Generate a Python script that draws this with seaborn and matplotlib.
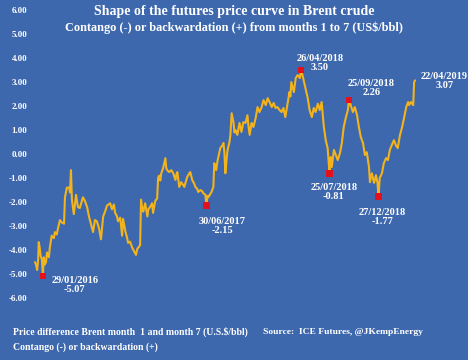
import pandas as pd
import matplotlib.pyplot as plt
import seaborn as sns

# Brent month1 - month7 spread (US$/bbl)
dates = [
    '2016-01-04', '2016-01-07', '2016-01-11', '2016-01-14', '2016-01-16', '2016-01-19', '2016-01-22', '2016-01-26',
    '2016-01-29', '2016-02-01', '2016-02-04', '2016-02-08', '2016-02-11', '2016-02-17', '2016-02-20', '2016-02-26',
    '2016-03-04', '2016-03-07', '2016-03-13', '2016-03-16', '2016-03-23', '2016-03-29', '2016-04-05', '2016-04-08',
    '2016-04-14', '2016-04-21', '2016-04-24', '2016-04-27', '2016-04-30', '2016-05-06', '2016-05-13', '2016-05-19',
    '2016-05-25', '2016-06-04', '2016-06-10', '2016-06-17', '2016-06-23', '2016-06-29', '2016-07-06', '2016-07-12',
    '2016-07-18', '2016-07-25', '2016-07-31', '2016-08-07', '2016-08-13', '2016-08-19', '2016-08-29', '2016-09-04',
    '2016-09-10', '2016-09-14', '2016-09-20', '2016-09-23', '2016-09-30', '2016-10-06', '2016-10-09', '2016-10-16',
    '2016-10-22', '2016-10-25', '2016-10-31', '2016-11-07', '2016-11-13', '2016-11-19', '2016-11-23', '2016-11-29',
    '2016-12-02', '2016-12-05', '2016-12-09', '2016-12-12', '2016-12-18', '2016-12-25', '2016-12-28', '2017-01-03',
    '2017-01-09', '2017-01-12', '2017-01-19', '2017-01-25', '2017-01-28', '2017-01-31', '2017-02-04', '2017-02-07',
    '2017-02-13', '2017-02-20', '2017-02-23', '2017-02-26', '2017-03-04', '2017-03-11', '2017-03-17', '2017-03-24',
    '2017-03-27', '2017-03-30', '2017-04-05', '2017-04-11', '2017-04-18', '2017-04-21', '2017-04-27', '2017-04-30',
    '2017-05-07', '2017-05-10', '2017-05-16', '2017-05-23', '2017-05-26', '2017-06-01', '2017-06-04', '2017-06-11',
    '2017-06-17', '2017-06-20', '2017-06-27', '2017-06-30', '2017-07-03', '2017-07-06', '2017-07-13', '2017-07-16',
    '2017-07-22', '2017-07-25', '2017-07-29', '2017-07-31', '2017-08-04', '2017-08-07', '2017-08-13', '2017-08-20',
    '2017-08-23', '2017-08-26', '2017-08-29', '2017-09-02', '2017-09-05', '2017-09-11', '2017-09-14', '2017-09-18',
    '2017-09-24', '2017-09-27', '2017-09-30', '2017-10-06', '2017-10-13', '2017-10-19', '2017-10-25', '2017-11-01',
    '2017-11-07', '2017-11-10', '2017-11-14', '2017-11-20', '2017-11-26', '2017-12-03', '2017-12-09', '2017-12-15',
    '2017-12-22', '2017-12-28', '2018-01-04', '2018-01-10', '2018-01-16', '2018-01-23', '2018-01-29', '2018-02-04',
    '2018-02-10', '2018-02-17', '2018-02-23', '2018-03-01', '2018-03-07', '2018-03-14', '2018-03-20', '2018-03-23',
    '2018-03-26', '2018-04-03', '2018-04-09', '2018-04-15', '2018-04-22', '2018-04-26', '2018-05-01', '2018-05-04',
    '2018-05-11', '2018-05-17', '2018-05-23', '2018-05-30', '2018-06-05', '2018-06-11', '2018-06-18', '2018-06-24',
    '2018-06-30', '2018-07-07', '2018-07-13', '2018-07-19', '2018-07-25', '2018-07-26', '2018-07-29', '2018-08-01',
    '2018-08-08', '2018-08-14', '2018-08-20', '2018-08-27', '2018-09-02', '2018-09-08', '2018-09-15', '2018-09-21',
    '2018-09-25', '2018-09-30', '2018-10-07', '2018-10-13', '2018-10-20', '2018-10-26', '2018-11-01', '2018-11-08',
    '2018-11-14', '2018-11-20', '2018-11-27', '2018-11-30', '2018-12-06', '2018-12-13', '2018-12-19', '2018-12-24',
    '2018-12-27', '2018-12-31', '2019-01-07', '2019-01-13', '2019-01-20', '2019-01-26', '2019-02-01', '2019-02-07',
    '2019-02-14', '2019-02-20', '2019-02-26', '2019-03-05', '2019-03-12', '2019-03-18', '2019-03-25', '2019-03-31',
    '2019-04-03', '2019-04-09', '2019-04-16', '2019-04-19', '2019-04-22',
]
spread = [
    -4.50, -4.60, -4.83, -4.40, -3.67, -3.90, -4.25, -4.40,
    -5.07, -4.30, -4.60, -4.50, -4.10, -4.30, -3.90, -3.40,
    -3.50, -3.25, -3.35, -3.15, -2.75, -2.85, -2.90, -1.80,
    -1.40, -1.40, -1.60, -0.67, -1.90, -2.50, -1.70, -2.20,
    -2.25, -1.80, -1.95, -2.20, -2.60, -2.90, -3.25, -2.75,
    -2.80, -3.10, -3.55, -2.60, -2.40, -2.15, -2.05, -2.30,
    -2.10, -2.45, -2.60, -2.80, -2.65, -3.40, -2.70, -3.20,
    -3.50, -3.70, -3.65, -3.90, -4.05, -4.20, -3.95, -3.85,
    -3.80, -1.90, -2.30, -2.40, -2.05, -2.60, -2.30, -2.20,
    -2.05, -2.45, -1.95, -1.85, -1.00, -0.90, -1.10, -0.80,
    -0.58, -0.17, -0.60, -0.67, -0.75, -0.67, -0.80, -1.08,
    -0.85, -0.75, -1.37, -1.17, -1.30, -1.37, -1.10, -0.96,
    -0.80, -0.75, -1.08, -1.25, -1.37, -1.45, -1.58, -1.50,
    -1.55, -1.63, -1.70, -2.15, -1.75, -1.80, -1.65, -1.58,
    -1.37, -0.38, -0.55, -0.67, -0.30, -0.12, 0.25, 0.37,
    0.46, 0.08, -0.80, -0.20, 0.17, 0.50, 0.80, 1.70,
    1.30, 0.90, 1.00, 0.80, 1.30, 0.92, 1.33, 1.30,
    1.62, 1.20, 0.80, 1.30, 1.13, 1.50, 1.96, 1.75,
    1.96, 2.25, 2.04, 2.33, 2.17, 1.96, 2.13, 1.92,
    1.96, 1.83, 1.75, 1.92, 1.54, 2.10, 2.58, 2.40,
    3.00, 2.58, 3.17, 3.29, 3.17, 3.50, 3.25, 3.08,
    2.67, 2.33, 1.83, 1.54, 1.92, 1.75, 2.10, 1.83,
    2.17, 1.13, 0.58, 0.25, -0.81, -0.25, -0.12, -0.54,
    0.17, -0.04, -0.25, 0.04, 0.46, 1.13, 1.54, 1.83,
    2.26, 2.04, 1.75, 1.96, 1.63, 1.13, 0.71, 0.46,
    -0.04, 0.08, -0.54, -1.17, -0.80, -1.20, -0.88, -1.20,
    -1.77, -1.00, -0.80, -0.38, -0.17, -0.25, 0.17, 0.37,
    0.58, 0.37, 0.25, 0.79, 1.13, 1.50, 1.96, 2.17,
    2.04, 2.17, 2.04, 3.00, 3.07,
]

# highlighted turning points
mark_dates = ['2016-01-29', '2017-06-30', '2018-04-26', '2018-07-25', '2018-09-25', '2018-12-27']
mark_values = [-5.07, -2.15, 3.50, -0.81, 2.26, -1.77]
last_date = '2019-04-22'
last_value = 3.07

BG = '#3E68AD'
GOLD = '#F2B31C'
RED = '#E3101E'

sns.set_theme(style='white')
plt.rcParams['font.family'] = ['Liberation Serif', 'DejaVu Serif']
plt.rcParams['font.weight'] = 'bold'

df = pd.DataFrame({'date': pd.to_datetime(dates), 'spread': spread})
marks = pd.DataFrame({'date': pd.to_datetime(mark_dates), 'spread': mark_values})

fig = plt.figure(figsize=(4.68, 3.6), dpi=100, facecolor=BG)
ax = fig.add_axes([0.07, 0.172, 0.85, 0.8])
ax.set_facecolor(BG)

sns.lineplot(data=df, x='date', y='spread', color=GOLD, lw=1.5, ax=ax)
sns.scatterplot(data=marks, x='date', y='spread', marker='s', color=RED, s=22,
                edgecolor='none', zorder=5, ax=ax)

# label offsets in points (dx, dy)
offsets = [(23, -6.5), (11.5, -14.5), (13.5, 5), (3, -13.5), (16, 8.5), (3, -15)]
for d, v, off in zip(marks['date'], marks['spread'], offsets):
    ax.annotate(f"{d:%d/%m/%Y}\n{v:.2f}", xy=(d, v), xytext=off, textcoords='offset points',
                ha='center', va='center', color='white', fontsize=7.5, linespacing=1.0)
ax.annotate(f"{pd.Timestamp(last_date):%d/%m/%Y}\n{last_value:.2f}", xy=(pd.Timestamp(last_date), last_value),
            xytext=(21, -0.5), textcoords='offset points', ha='center', va='center',
            color='white', fontsize=7.5, linespacing=1.0)

ax.set_ylim(-6, 6)
ax.set_yticks(range(-6, 7))
ax.set_yticklabels([f"{t:.2f}" for t in range(-6, 7)], color='white', fontsize=6.5)
ax.set_xlim(pd.Timestamp('2015-12-28'), pd.Timestamp('2019-06-10'))
ax.set_xticks([])
ax.tick_params(axis='y', length=0, pad=4)
ax.set_xlabel('')
ax.set_ylabel('')
sns.despine(ax=ax, left=True, bottom=True)

fig.text(0.5, 0.967, 'Shape of the futures price curve in Brent crude', ha='center', va='center',
         color='white', fontsize=10)
fig.text(0.5, 0.922, 'Contango (-) or backwardation (+) from months 1 to 7 (US$/bbl)', ha='center', va='center',
         color='white', fontsize=8.8)
fig.text(0.028, 0.078, 'Price difference Brent month  1 and month 7 (U.S.$/bbl)', ha='left', va='center',
         color='white', fontsize=7.0)
fig.text(0.562, 0.078, 'Source:  ICE Futures, @JKempEnergy', ha='left', va='center',
         color='white', fontsize=6.8)
fig.text(0.028, 0.036, 'Contango (-) or backwardation (+)', ha='left', va='center',
         color='white', fontsize=7.0)

fig.savefig('out.png', dpi=100, facecolor=BG)
